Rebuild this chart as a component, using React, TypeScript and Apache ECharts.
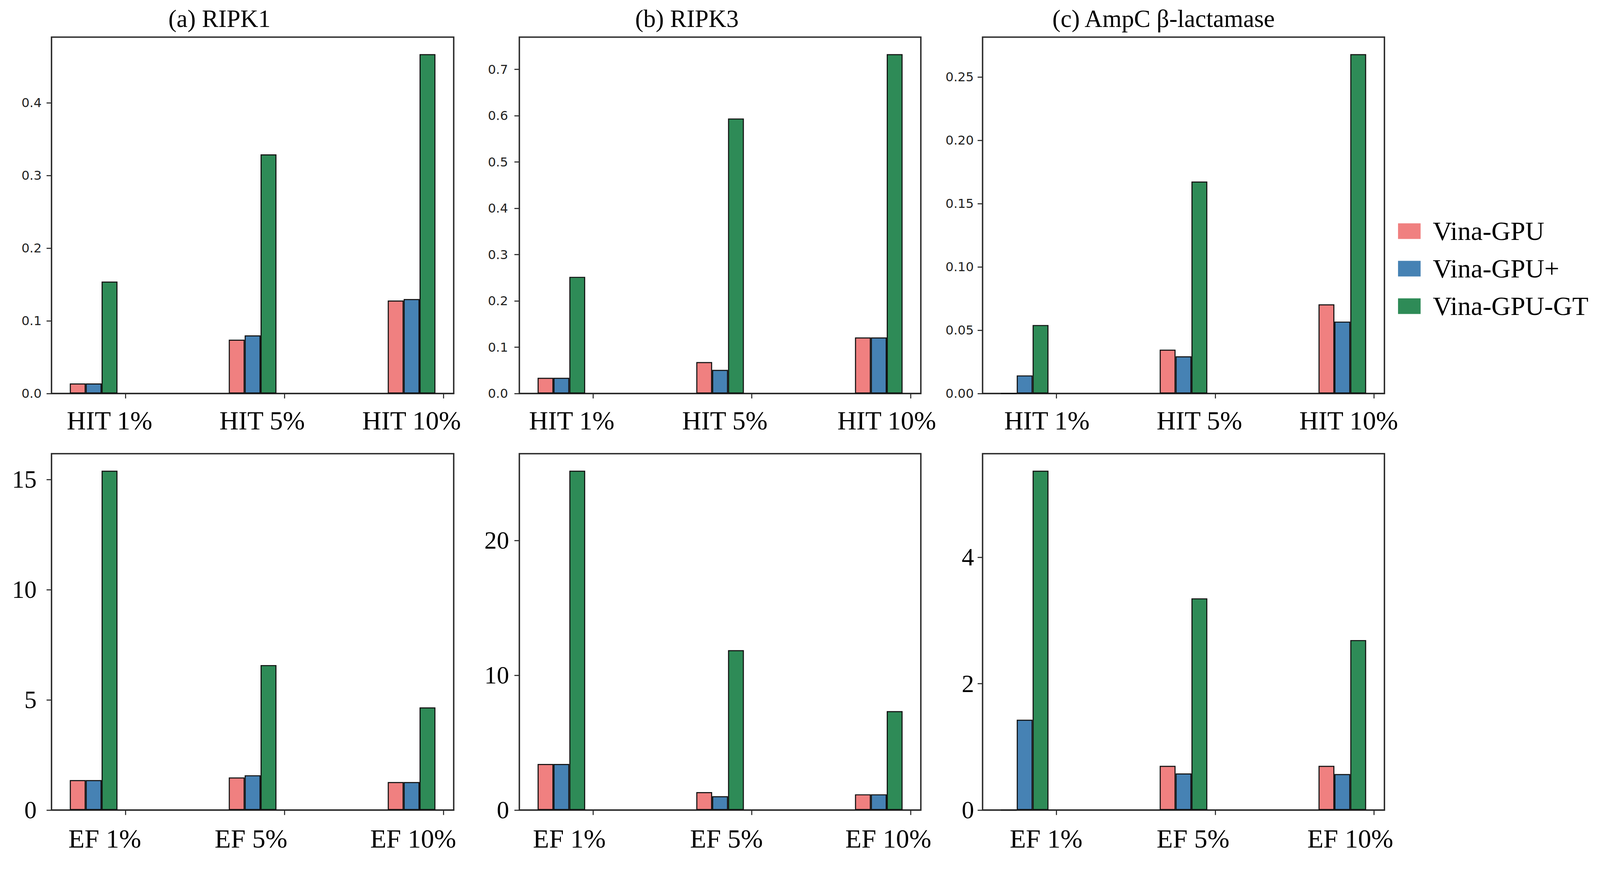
import React, { useEffect, useRef } from "react";
import * as echarts from "echarts";

// ---------- data ----------
const SERIES_NAMES = ["Vina-GPU", "Vina-GPU+", "Vina-GPU-GT"];
const SERIES_COLORS = ["#F08080", "#4682B4", "#2E8B57"];
const PANEL_TITLES = ["(a) RIPK1", "(b) RIPK3", "(c) AmpC β-lactamase"];
const HIT_CATEGORIES = ["HIT 1%", "HIT 5%", "HIT 10%"];
const EF_CATEGORIES = ["EF 1%", "EF 5%", "EF 10%"];

// HIT values per category (1%, 5%, 10%)
const RIPK1_HIT_VINA = [0.0138, 0.074, 0.128];
const RIPK1_HIT_PLUS = [0.0138, 0.08, 0.13];
const RIPK1_HIT_GT = [0.154, 0.329, 0.467];
const RIPK3_HIT_VINA = [0.034, 0.068, 0.121];
const RIPK3_HIT_PLUS = [0.034, 0.051, 0.121];
const RIPK3_HIT_GT = [0.252, 0.594, 0.733];
const AMPC_HIT_VINA = [0, 0.0346, 0.0704];
const AMPC_HIT_PLUS = [0.0143, 0.0294, 0.0568];
const AMPC_HIT_GT = [0.0541, 0.1674, 0.268];

// EF values per category (1%, 5%, 10%)
const RIPK1_EF_VINA = [1.36, 1.48, 1.27];
const RIPK1_EF_PLUS = [1.36, 1.58, 1.27];
const RIPK1_EF_GT = [15.4, 6.58, 4.66];
const RIPK3_EF_VINA = [3.42, 1.33, 1.17];
const RIPK3_EF_PLUS = [3.42, 1.03, 1.17];
const RIPK3_EF_GT = [25.17, 11.86, 7.34];
const AMPC_EF_VINA = [0, 0.7, 0.7];
const AMPC_EF_PLUS = [1.43, 0.58, 0.57];
const AMPC_EF_GT = [5.37, 3.35, 2.69];

// y tick values
const RIPK1_HIT_TICKS = [0, 0.1, 0.2, 0.3, 0.4];
const RIPK3_HIT_TICKS = [0, 0.1, 0.2, 0.3, 0.4, 0.5, 0.6, 0.7];
const AMPC_HIT_TICKS = [0, 0.05, 0.1, 0.15, 0.2, 0.25];
const RIPK1_EF_TICKS = [0, 5, 10, 15];
const RIPK3_EF_TICKS = [0, 10, 20];
const AMPC_EF_TICKS = [0, 2, 4];

// ---------- layout (reference pixel space 4535 x 2275) ----------
const REF_W = 4535;
const REF_H = 2275;
const GRID_LEFT = [146, 1472, 2785];
const GRID_WIDTH = [1140, 1138, 1139];
const ROW_TOP = [95, 1161];
const GRID_HEIGHT = 912;
const TITLE_X = [622, 1947, 3298];
const TITLE_Y = 48;
const BAR_OFFSETS = [-0.3, -0.2, -0.1];
const X_MIN = -0.465;
const X_MAX = 2.065;
const LABEL_OFFSETS = [
  [[-0.1, -0.14, -0.2], [-0.135, -0.17, -0.15], [-0.06, -0.1, -0.16]],
  [[-0.13, -0.21, -0.19], [-0.15, -0.16, -0.14], [-0.065, -0.14, -0.15]],
];
const Y_LABEL_MARGIN = [
  [28, 32, 25],
  [42, 29, 24],
];
const X_LABEL_MARGIN = [69, 73];
const LEGEND_LEFT = 3957;
const LEGEND_TOP = 549;
const SERIF = "'Liberation Serif', 'Times New Roman', serif";
const SANS = "'DejaVu Sans', sans-serif";
const AXIS_COLOR = "#2a2a2a";

type Panel = {
  row: number;
  col: number;
  cats: string[];
  vals: number[][];
  ticks: number[];
  decimals: number;
};

const PANELS: Panel[] = [
  { row: 0, col: 0, cats: HIT_CATEGORIES, vals: [RIPK1_HIT_VINA, RIPK1_HIT_PLUS, RIPK1_HIT_GT], ticks: RIPK1_HIT_TICKS, decimals: 1 },
  { row: 0, col: 1, cats: HIT_CATEGORIES, vals: [RIPK3_HIT_VINA, RIPK3_HIT_PLUS, RIPK3_HIT_GT], ticks: RIPK3_HIT_TICKS, decimals: 1 },
  { row: 0, col: 2, cats: HIT_CATEGORIES, vals: [AMPC_HIT_VINA, AMPC_HIT_PLUS, AMPC_HIT_GT], ticks: AMPC_HIT_TICKS, decimals: 2 },
  { row: 1, col: 0, cats: EF_CATEGORIES, vals: [RIPK1_EF_VINA, RIPK1_EF_PLUS, RIPK1_EF_GT], ticks: RIPK1_EF_TICKS, decimals: 0 },
  { row: 1, col: 1, cats: EF_CATEGORIES, vals: [RIPK3_EF_VINA, RIPK3_EF_PLUS, RIPK3_EF_GT], ticks: RIPK3_EF_TICKS, decimals: 0 },
  { row: 1, col: 2, cats: EF_CATEGORIES, vals: [AMPC_EF_VINA, AMPC_EF_PLUS, AMPC_EF_GT], ticks: AMPC_EF_TICKS, decimals: 0 },
];

function buildOption(sx: number, sy: number) {
  const sf = Math.min(sx, sy);
  const X = (v: number) => v * sx;
  const Y = (v: number) => v * sy;
  const F = (v: number) => v * sf;

  const grid: any[] = [];
  const xAxis: any[] = [];
  const yAxis: any[] = [];
  const series: any[] = [];

  PANELS.forEach((p, idx) => {
    grid.push({
      left: X(GRID_LEFT[p.col]),
      top: Y(ROW_TOP[p.row]),
      width: X(GRID_WIDTH[p.col]),
      height: Y(GRID_HEIGHT),
      show: true,
      borderColor: AXIS_COLOR,
      borderWidth: F(4),
      backgroundColor: "transparent",
      containLabel: false,
    });
    const labelPos = p.cats.map((_, i) => i + LABEL_OFFSETS[p.row][p.col][i]);
    xAxis.push({
      type: "value",
      gridIndex: idx,
      position: "bottom",
      min: X_MIN,
      max: X_MAX,
      splitLine: { show: false },
      axisLine: { show: true, onZero: false, lineStyle: { color: AXIS_COLOR, width: F(4) } },
      axisTick: {
        show: true,
        inside: false,
        length: F(14),
        customValues: p.cats.map((_, i) => i),
        lineStyle: { color: AXIS_COLOR, width: F(3) },
      },
      axisLabel: {
        show: true,
        customValues: labelPos,
        margin: Y(X_LABEL_MARGIN[p.row]),
        fontFamily: SERIF,
        fontSize: F(75),
        lineHeight: F(75),
        color: "#000",
        verticalAlign: "middle",
        formatter: (v: number) => {
          let best = 0;
          let bd = Infinity;
          labelPos.forEach((lp, i) => {
            const d = Math.abs(lp - v);
            if (d < bd) {
              bd = d;
              best = i;
            }
          });
          return p.cats[best];
        },
      },
    });
    const maxVal = Math.max(...p.vals.flat());
    yAxis.push({
      type: "value",
      gridIndex: idx,
      position: "left",
      min: 0,
      max: maxVal * 1.05,
      splitLine: { show: false },
      axisLine: { show: false, onZero: false },
      axisTick: {
        show: true,
        inside: false,
        length: F(14),
        customValues: p.ticks,
        lineStyle: { color: AXIS_COLOR, width: F(3) },
      },
      axisLabel: {
        show: true,
        customValues: p.ticks,
        margin: X(Y_LABEL_MARGIN[p.row][p.col]),
        fontFamily: p.row === 0 ? SANS : SERIF,
        fontSize: F(p.row === 0 ? 36 : 70),
        color: p.row === 0 ? "#222" : "#000",
        formatter: (v: number) => v.toFixed(p.decimals),
      },
    });
    p.vals.forEach((vals, s) => {
      series.push({
        type: "bar",
        name: SERIES_NAMES[s],
        xAxisIndex: idx,
        yAxisIndex: idx,
        data: vals.map((v, i) => [i + BAR_OFFSETS[s], v]),
        barWidth: "100%",
        barGap: "-100%",
        itemStyle: {
          color: SERIES_COLORS[s],
          borderColor: "#111",
          borderWidth: F(3),
        },
        emphasis: { disabled: true },
        silent: true,
      });
    });
  });

  const graphic = PANEL_TITLES.map((t, i) => ({
    type: "text",
    x: X(TITLE_X[i]),
    y: Y(TITLE_Y),
    style: {
      text: t,
      fontFamily: SERIF,
      fontSize: F(70),
      fill: "#000",
      align: "center",
      verticalAlign: "middle",
    },
  }));

  return {
    animation: false,
    backgroundColor: "#fff",
    grid,
    xAxis,
    yAxis,
    series,
    graphic,
    legend: {
      show: true,
      orient: "vertical",
      left: X(LEGEND_LEFT),
      top: Y(LEGEND_TOP),
      itemWidth: X(64),
      itemHeight: Y(40),
      itemGap: Y(21),
      icon: "rect",
      data: SERIES_NAMES,
      selectedMode: false,
      itemStyle: { borderWidth: 0 },
      textStyle: {
        fontFamily: SERIF,
        fontSize: F(75),
        lineHeight: Y(75),
        color: "#000",
        padding: [0, 0, 0, X(29)],
      },
    },
  };
}

export default function App() {
  const ref = useRef<HTMLDivElement>(null);
  useEffect(() => {
    const el = ref.current;
    if (!el) return;
    const w = el.clientWidth || window.innerWidth || REF_W;
    const h = el.clientHeight || window.innerHeight || REF_H;
    const chart = echarts.init(el, undefined, { renderer: "svg", width: w, height: h });
    chart.setOption(buildOption(w / REF_W, h / REF_H) as any);
    return () => chart.dispose();
  }, []);
  return (
    <div
      ref={ref}
      style={{
        position: "fixed",
        left: 0,
        top: 0,
        width: "100vw",
        height: "100vh",
        background: "#fff",
        overflow: "hidden",
      }}
    />
  );
}
